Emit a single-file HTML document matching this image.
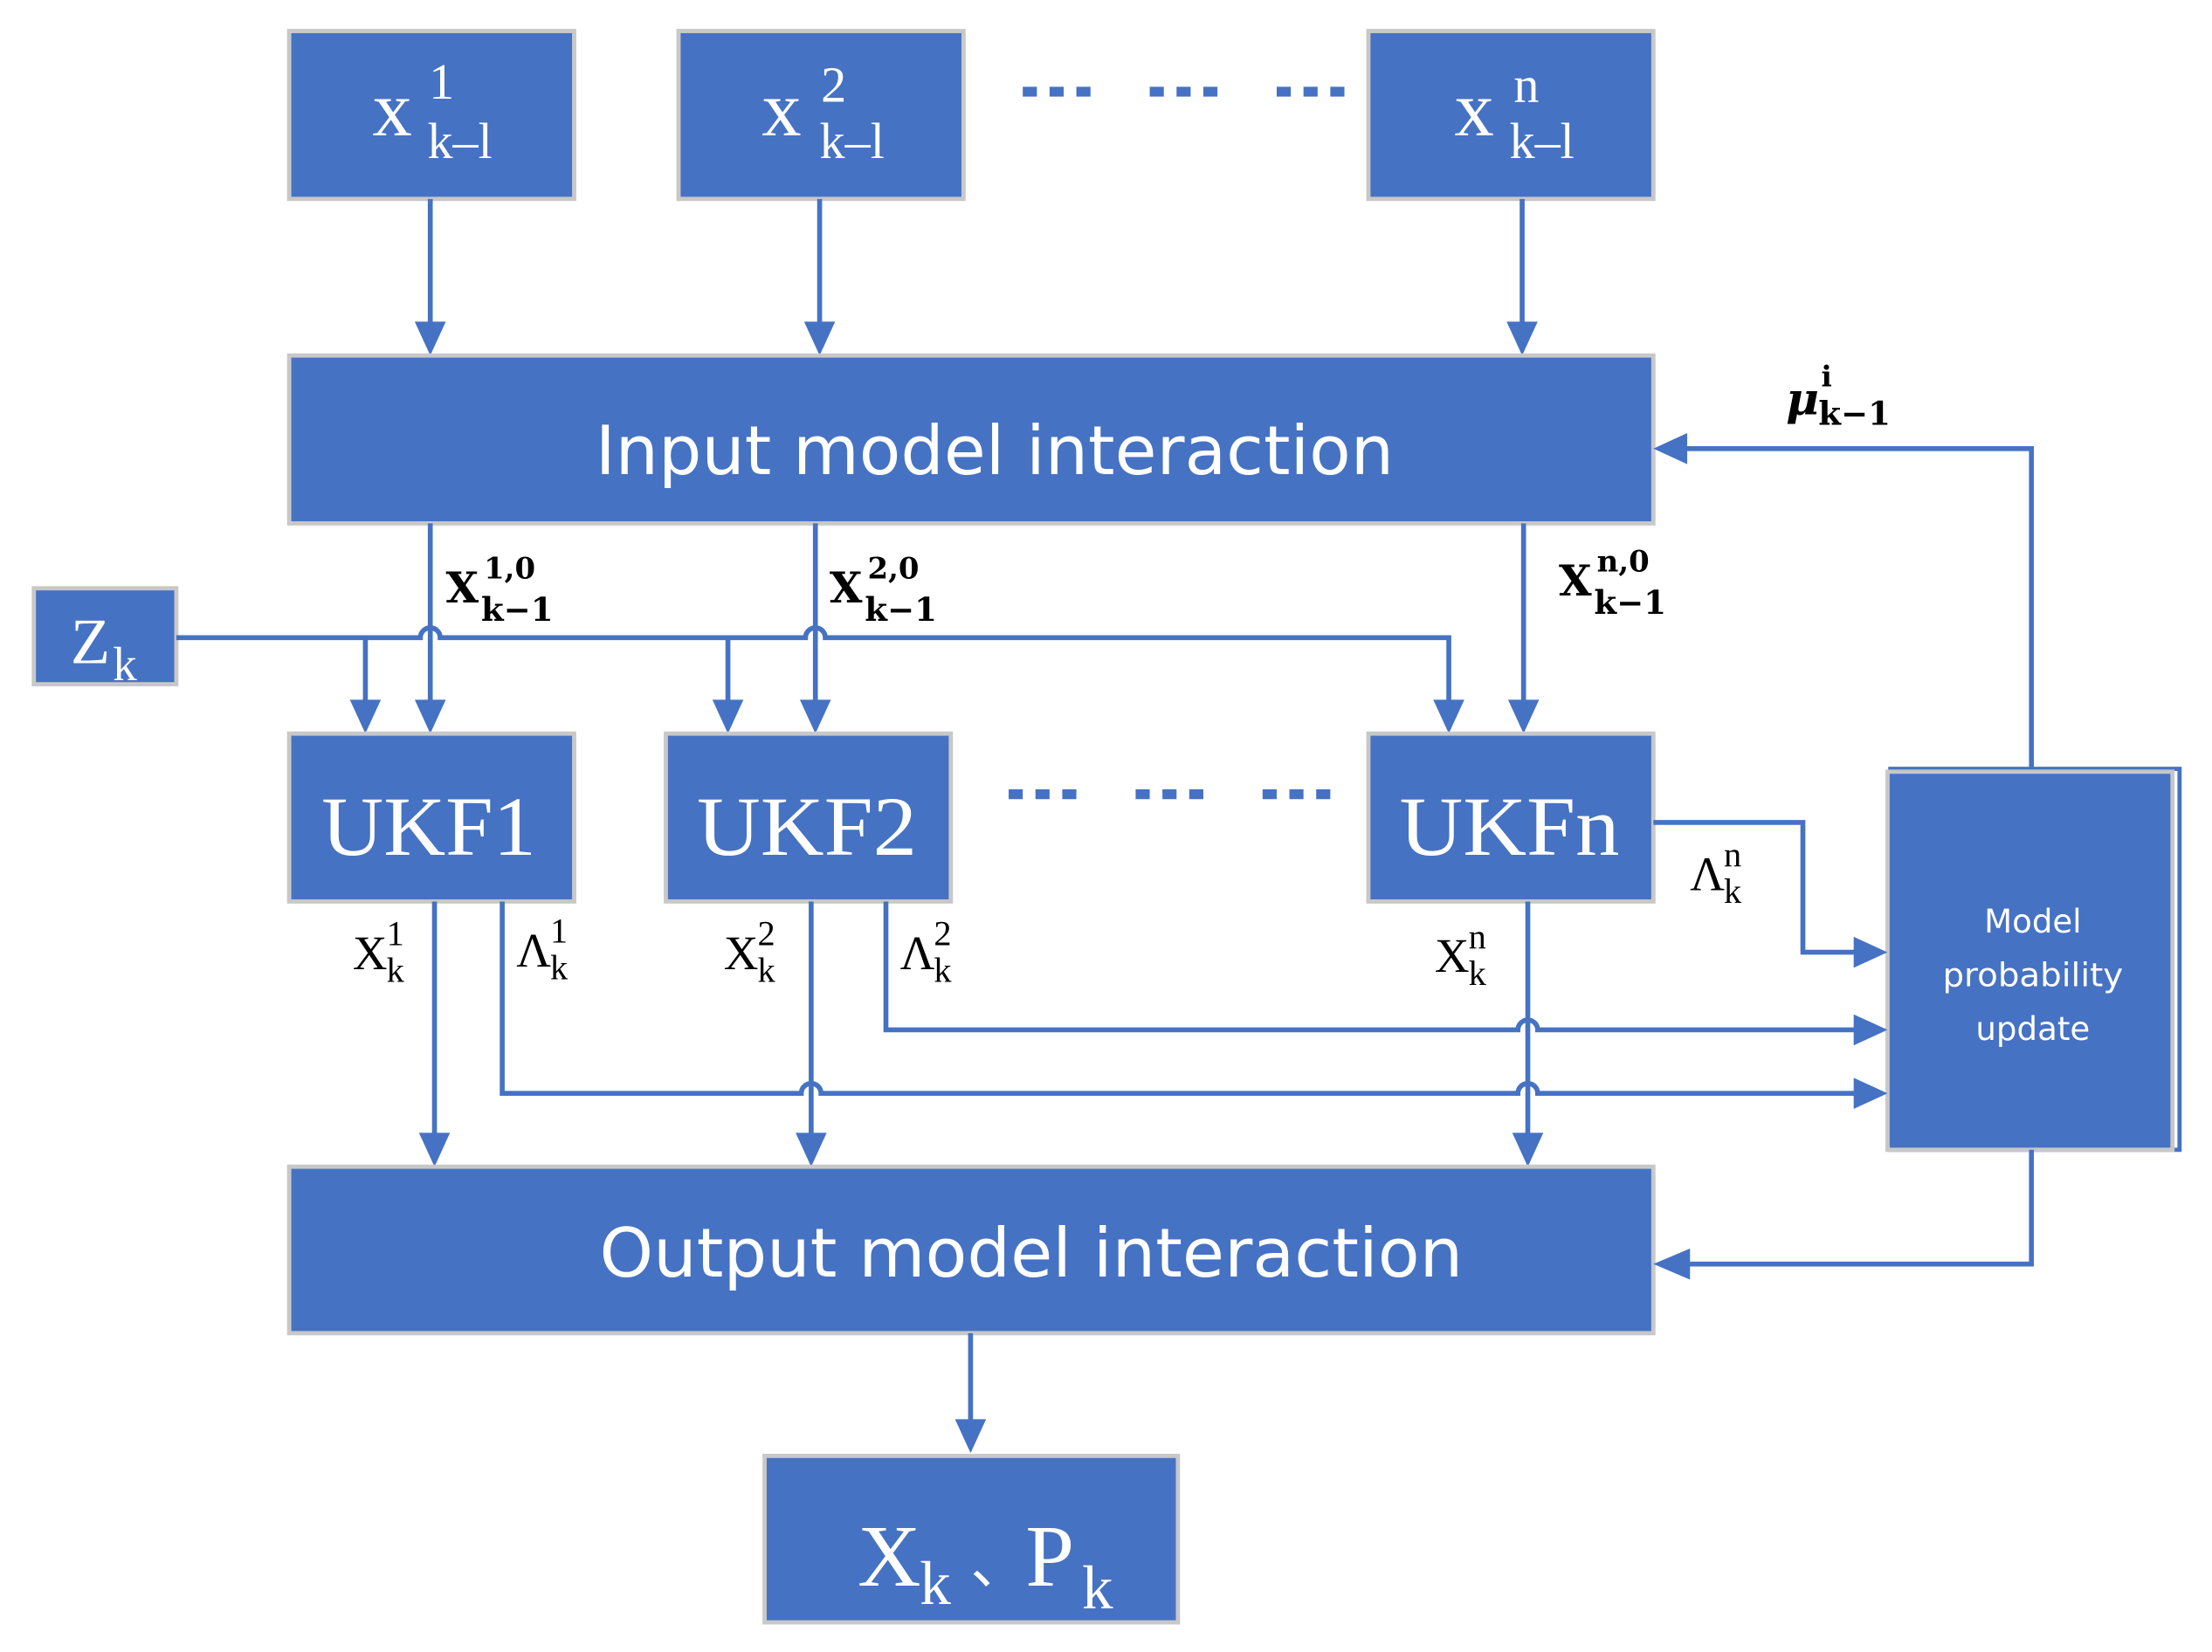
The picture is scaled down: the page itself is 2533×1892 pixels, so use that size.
<!DOCTYPE html>
<html><head><meta charset="utf-8"><style>
html,body{margin:0;padding:0;background:#fff;}
svg{display:block;}
.b{fill:#4672C4;stroke:#c8c8c8;stroke-width:3;}
.l{stroke:#4672C4;stroke-width:3.5;fill:none;}
.a{fill:#4672C4;}
.w{fill:#fff;font-family:"Liberation Serif",serif;}
.s{fill:#fff;font-family:"DejaVu Sans","Liberation Sans",sans-serif;}
.k{fill:#000;font-family:"Liberation Serif",serif;}
.kb{fill:#000;font-family:"DejaVu Serif","Liberation Serif",serif;font-weight:bold;}
</style></head><body>
<svg width="2533" height="1892" viewBox="0 0 1568 1171" preserveAspectRatio="none" xmlns="http://www.w3.org/2000/svg">
<rect class="b" x="205" y="22" width="202" height="119"/>
<rect class="b" x="481" y="22" width="202" height="119"/>
<rect class="b" x="970" y="22" width="202" height="119"/>
<text class="w" x="264" y="96" font-size="56">x</text><text class="w" x="304" y="70" font-size="36">1</text><text class="w" x="303" y="112" font-size="36">k–l</text>
<text class="w" x="540" y="96" font-size="56">x</text><text class="w" x="582" y="72" font-size="36">2</text><text class="w" x="581" y="112" font-size="36">k–l</text>
<text class="w" x="1031" y="96" font-size="56">x</text><text class="w" x="1073" y="72" font-size="36">n</text><text class="w" x="1070" y="112" font-size="36">k–l</text>
<g stroke="#4672C4" stroke-width="7" stroke-dasharray="10,9">
<line x1="725" y1="65" x2="778" y2="65"/><line x1="815" y1="65" x2="868" y2="65"/><line x1="905" y1="65" x2="958" y2="65"/>
<line x1="715" y1="563" x2="768" y2="563"/><line x1="805" y1="563" x2="858" y2="563"/><line x1="895" y1="563" x2="948" y2="563"/>
</g>
<line class="l" x1="305" y1="141" x2="305" y2="232"/><polygon class="a" points="294,228 316,228 305,252"/>
<line class="l" x1="581" y1="141" x2="581" y2="232"/><polygon class="a" points="570,228 592,228 581,252"/>
<line class="l" x1="1079" y1="141" x2="1079" y2="232"/><polygon class="a" points="1068,228 1090,228 1079,252"/>
<rect class="b" x="205" y="252" width="967" height="119"/>
<text class="s" x="705" y="336" font-size="48" text-anchor="middle" textLength="566" lengthAdjust="spacingAndGlyphs">Input model interaction</text>
<path class="l" d="M1440,545 L1440,318 L1192,318"/><polygon class="a" points="1196,307 1196,329 1172,318"/>
<text class="kb" x="1266" y="294" font-size="32" font-style="italic">μ</text><text class="kb" x="1291" y="274" font-size="20">i</text><text class="kb" x="1289" y="301" font-size="23">k−1</text>
<line class="l" x1="305" y1="371" x2="305" y2="500"/><polygon class="a" points="294,496 316,496 305,520"/>
<line class="l" x1="578" y1="371" x2="578" y2="500"/><polygon class="a" points="567,496 589,496 578,520"/>
<line class="l" x1="1080" y1="371" x2="1080" y2="500"/><polygon class="a" points="1069,496 1091,496 1080,520"/>
<text class="kb" x="316" y="427" font-size="30">X</text><text class="kb" x="343" y="410" font-size="21">1,0</text><text class="kb" x="341" y="440" font-size="23">k−1</text>
<text class="kb" x="588" y="427" font-size="30">X</text><text class="kb" x="615" y="410" font-size="21">2,0</text><text class="kb" x="613" y="440" font-size="23">k−1</text>
<text class="kb" x="1105" y="422" font-size="30">X</text><text class="kb" x="1132" y="405" font-size="21">n,0</text><text class="kb" x="1130" y="435" font-size="23">k−1</text>
<rect class="b" x="24" y="417" width="101" height="68"/>
<text class="w" x="50" y="470" font-size="46">Z</text><text class="w" x="80" y="482" font-size="34">k</text>
<path class="l" d="M125,452 L298,452 A7,7 0 0 1 312,452 L571,452 A7,7 0 0 1 585,452 L1027,452 L1027,500"/>
<line class="l" x1="259" y1="452" x2="259" y2="500"/><polygon class="a" points="248,496 270,496 259,520"/>
<line class="l" x1="516" y1="452" x2="516" y2="500"/><polygon class="a" points="505,496 527,496 516,520"/>
<polygon class="a" points="1016,496 1038,496 1027,520"/>
<rect class="b" x="205" y="520" width="202" height="119"/>
<rect class="b" x="472" y="520" width="202" height="119"/>
<rect class="b" x="970" y="520" width="202" height="119"/>
<text class="w" x="304" y="606" font-size="60" text-anchor="middle" textLength="152" lengthAdjust="spacingAndGlyphs">UKF1</text>
<text class="w" x="572" y="606" font-size="60" text-anchor="middle" textLength="156" lengthAdjust="spacingAndGlyphs">UKF2</text>
<text class="w" x="1070" y="606" font-size="60" text-anchor="middle" textLength="156" lengthAdjust="spacingAndGlyphs">UKFn</text>
<rect x="1340" y="545" width="205" height="270" fill="none" stroke="#4672C4" stroke-width="3"/>
<rect class="b" x="1338" y="547" width="202" height="268"/>
<text class="s" x="1441" y="661" font-size="23" text-anchor="middle">Model</text>
<text class="s" x="1441" y="699" font-size="23" text-anchor="middle" textLength="128" lengthAdjust="spacingAndGlyphs">probability</text>
<text class="s" x="1441" y="737" font-size="23" text-anchor="middle">update</text>
<path class="l" d="M1172,583 L1278,583 L1278,675 L1318,675"/><polygon class="a" points="1314,664 1314,686 1338,675"/>
<path class="l" d="M628,639 L628,730 L1076,730 A7,7 0 0 1 1090,730 L1318,730"/><polygon class="a" points="1314,719 1314,741 1338,730"/>
<path class="l" d="M356,639 L356,775 L568,775 A7,7 0 0 1 582,775 L1076,775 A7,7 0 0 1 1090,775 L1318,775"/><polygon class="a" points="1314,764 1314,786 1338,775"/>
<line class="l" x1="308" y1="639" x2="308" y2="807"/><polygon class="a" points="297,803 319,803 308,827"/>
<line class="l" x1="575" y1="639" x2="575" y2="807"/><polygon class="a" points="564,803 586,803 575,827"/>
<line class="l" x1="1083" y1="639" x2="1083" y2="807"/><polygon class="a" points="1072,803 1094,803 1083,827"/>
<text class="k" x="250" y="687" font-size="34">X</text><text class="k" x="274" y="670" font-size="25">1</text><text class="k" x="274" y="696" font-size="25">k</text>
<text class="k" x="366" y="685" font-size="34">Λ</text><text class="k" x="390" y="668" font-size="25">1</text><text class="k" x="390" y="694" font-size="25">k</text>
<text class="k" x="513" y="687" font-size="34">X</text><text class="k" x="537" y="670" font-size="25">2</text><text class="k" x="537" y="696" font-size="25">k</text>
<text class="k" x="638" y="687" font-size="34">Λ</text><text class="k" x="662" y="670" font-size="25">2</text><text class="k" x="662" y="696" font-size="25">k</text>
<text class="k" x="1017" y="689" font-size="34">X</text><text class="k" x="1041" y="672" font-size="25">n</text><text class="k" x="1041" y="698" font-size="25">k</text>
<text class="k" x="1198" y="631" font-size="34">Λ</text><text class="k" x="1222" y="614" font-size="25">n</text><text class="k" x="1222" y="640" font-size="25">k</text>
<rect class="b" x="205" y="827" width="967" height="118"/>
<text class="s" x="731" y="905" font-size="48" text-anchor="middle" textLength="612" lengthAdjust="spacingAndGlyphs">Output model interaction</text>
<path class="l" d="M1440,815 L1440,896 L1196,896"/><polygon class="a" points="1198,885 1198,907 1172,896"/>
<line class="l" x1="688" y1="945" x2="688" y2="1010"/><polygon class="a" points="677,1006 699,1006 688,1030"/>
<rect class="b" x="542" y="1032" width="293" height="118"/>
<text class="w" x="608" y="1124" font-size="62">X</text><text class="w" x="652" y="1137" font-size="44">k</text>
<text class="w" x="688" y="1122" font-size="40">、</text>
<text class="w" x="727" y="1124" font-size="62">P</text><text class="w" x="767" y="1140" font-size="44">k</text>
</svg>
</body></html>
